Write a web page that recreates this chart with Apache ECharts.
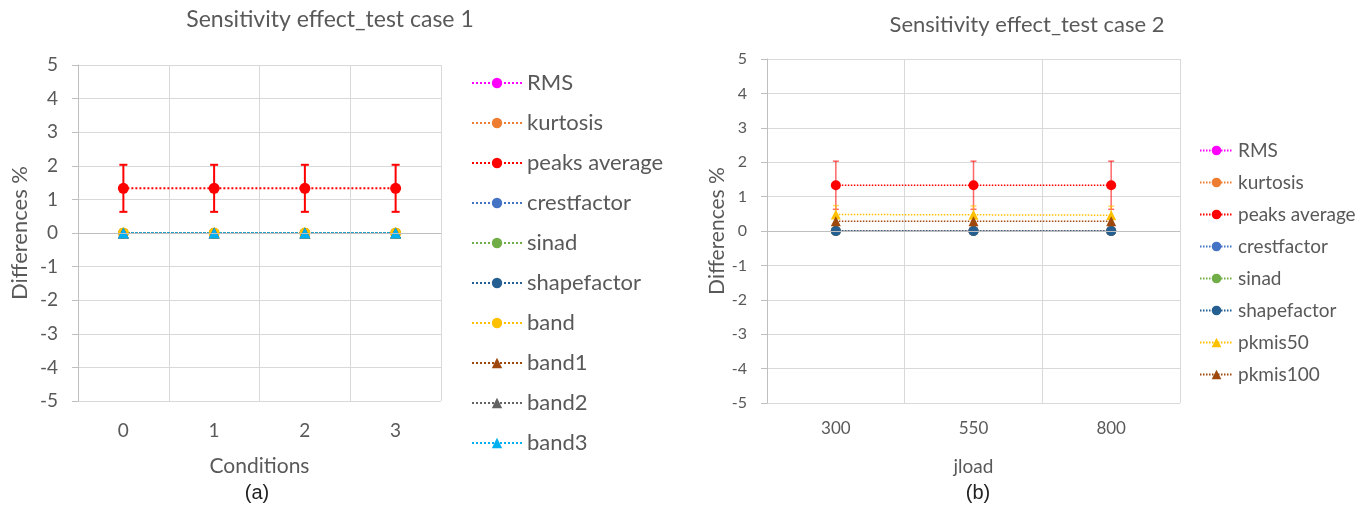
<!DOCTYPE html>
<html>
<head>
<meta charset="utf-8">
<script src="https://cdn.jsdelivr.net/npm/echarts@6/dist/echarts.min.js"></script>
<style>
  html, body { margin: 0; padding: 0; background: #fff; }
  #chart { width: 1367px; height: 509px; }
</style>
</head>
<body>
<div id="chart"></div>
<script>
// 数据
var conditions = ['0', '1', '2', '3'];
var jload = ['300', '550', '800'];

// case 1
var rms1 = [0, 0, 0, 0];
var kurtosis1 = [0, 0, 0, 0];
var peaksAvg1 = [1.33, 1.33, 1.33, 1.33];
var peaksErr1 = [0.70, 0.70, 0.70, 0.70];
var crest1 = [0, 0, 0, 0];
var sinad1 = [0, 0, 0, 0];
var shape1 = [0, 0, 0, 0];
var band = [0, 0, 0, 0];
var band1 = [0, 0, 0, 0];
var band2 = [0, 0, 0, 0];
var band3 = [0, 0, 0, 0];

// case 2
var rms2 = [0, 0, 0];
var kurtosis2 = [0, 0, 0];
var peaksAvg2 = [1.33, 1.33, 1.33];
var peaksErr2 = [0.70, 0.70, 0.70];
var crest2 = [0, 0, 0];
var sinad2 = [0, 0, 0];
var shape2 = [0, 0, 0];
var pkmis50 = [0.48, 0.47, 0.46];
var pkmis50Err = [0.26, 0.26, 0.26];
var pkmis100 = [0.28, 0.28, 0.28];

var yTicks = [-5, -4, -3, -2, -1, 0, 1, 2, 3, 4, 5];

var txt = '#595959';
var font = 'Lato, "Open Sans", sans-serif';

function line(name, data, color, symbol, idx, size, width) {
  return {
    name: name, type: 'line', data: data,
    xAxisIndex: idx, yAxisIndex: idx,
    symbol: symbol, symbolSize: size,
    lineStyle: { color: color, width: width, type: [width, width] },
    itemStyle: { color: color },
    z: 3
  };
}

// 误差线
function errBar(vals, errs, color, idx, cap, width, opacity) {
  var d = vals.map(function (v, i) { return [i, v - errs[i], v + errs[i]]; });
  return {
    type: 'custom', xAxisIndex: idx, yAxisIndex: idx, data: d, z: 2, silent: true,
    renderItem: function (params, api) {
      var lo = api.coord([api.value(0), api.value(1)]);
      var hi = api.coord([api.value(0), api.value(2)]);
      var st = { stroke: color, lineWidth: width, opacity: opacity };
      return {
        type: 'group',
        children: [
          { type: 'line', shape: { x1: hi[0], y1: hi[1], x2: lo[0], y2: lo[1] }, style: st },
          { type: 'line', shape: { x1: hi[0] - cap, y1: hi[1], x2: hi[0] + cap, y2: hi[1] }, style: st },
          { type: 'line', shape: { x1: lo[0] - cap, y1: lo[1], x2: lo[0] + cap, y2: lo[1] }, style: st }
        ]
      };
    }
  };
}

function zeroLine() {
  return {
    silent: true, symbol: 'none', label: { show: false },
    lineStyle: { color: '#BFBFBF', width: 1, type: 'solid' },
    data: [{ yAxis: 0 }]
  };
}

var s1 = [
  line('RMS', rms1, '#FF00FF', 'circle', 0, 10, 2),
  line('kurtosis', kurtosis1, '#ED7D31', 'circle', 0, 10, 2),
  line('peaks average', peaksAvg1, '#FF0000', 'circle', 0, 11, 2),
  line('crestfactor', crest1, '#4472C4', 'circle', 0, 10, 2),
  line('sinad', sinad1, '#70AD47', 'circle', 0, 10, 2),
  line('shapefactor', shape1, '#255E91', 'circle', 0, 10, 2),
  line('band', band, '#FFC000', 'circle', 0, 11, 2),
  line('band1', band1, '#9E480E', 'triangle', 0, 11, 2),
  line('band2', band2, '#636363', 'triangle', 0, 11, 2),
  line('band3', band3, '#00B0F0', 'triangle', 0, 11, 2)
];
s1[0].markLine = zeroLine();

var s2 = [
  line('RMS#2', rms2, '#FF00FF', 'circle', 1, 10, 1.5),
  line('kurtosis#2', kurtosis2, '#ED7D31', 'circle', 1, 10, 1.5),
  line('peaks average#2', peaksAvg2, '#FF0000', 'circle', 1, 10, 1.5),
  line('crestfactor#2', crest2, '#4472C4', 'circle', 1, 10, 1.5),
  line('sinad#2', sinad2, '#70AD47', 'circle', 1, 10, 1.5),
  line('shapefactor#2', shape2, '#255E91', 'circle', 1, 10, 1.5),
  line('pkmis50#2', pkmis50, '#FFC000', 'triangle', 1, 10, 1.5),
  line('pkmis100#2', pkmis100, '#9E480E', 'triangle', 1, 10, 1.5)
];
s2[0].markLine = zeroLine();

var series = s1.concat(s2);
series.push(errBar(peaksAvg1, peaksErr1, '#FF0000', 0, 4, 2, 1));
series.push(errBar(peaksAvg2, peaksErr2, '#FF0000', 1, 3, 1.5, 0.6));
series.push(errBar(pkmis50, pkmis50Err, '#FFC000', 1, 3, 1.5, 0.6));

function yAxis(idx, fs, nfs, gap) {
  return {
    type: 'value', gridIndex: idx, min: yTicks[0], max: yTicks[yTicks.length - 1], interval: 1,
    name: 'Differences %', nameLocation: 'middle', nameRotate: 90, nameGap: gap,
    nameTextStyle: { color: txt, fontSize: nfs, fontFamily: font },
    axisLine: { show: true, lineStyle: { color: '#BFBFBF' } },
    axisTick: { show: true, length: 6, lineStyle: { color: '#BFBFBF' } },
    axisLabel: { color: txt, fontSize: fs, fontFamily: font, margin: 20 },
    splitLine: { lineStyle: { color: '#D9D9D9' } }
  };
}

function xAxis(idx, cats, name, fs, nfs, lblMargin, gap) {
  return {
    type: 'category', gridIndex: idx, data: cats, boundaryGap: true,
    name: name, nameLocation: 'middle', nameGap: gap,
    nameTextStyle: { color: txt, fontSize: nfs, fontFamily: font },
    axisLine: { show: false, onZero: false },
    axisTick: { show: false },
    axisLabel: { color: txt, fontSize: fs, fontFamily: font, margin: lblMargin },
    splitLine: { show: true, lineStyle: { color: '#D9D9D9' } }
  };
}

var chart = echarts.init(document.getElementById('chart'));
chart.setOption({
  animation: false,
  title: [
    { text: 'Sensitivity effect_test case 1', left: 330, top: 8, padding: 0, textAlign: 'center',
      textStyle: { color: txt, fontSize: 23, fontWeight: 'normal', fontFamily: font } },
    { text: 'Sensitivity effect_test case 2', left: 1027, top: 14, padding: 0, textAlign: 'center',
      textStyle: { color: txt, fontSize: 22, fontWeight: 'normal', fontFamily: font } },
    { text: '(a)', left: 257, top: 483, padding: 0, textAlign: 'center',
      textStyle: { color: '#222', fontSize: 20, fontWeight: 'normal', fontFamily: 'Liberation Sans, Arial' } },
    { text: '(b)', left: 978, top: 483, padding: 0, textAlign: 'center',
      textStyle: { color: '#222', fontSize: 20, fontWeight: 'normal', fontFamily: 'Liberation Sans, Arial' } }
  ],
  legend: [
    { orient: 'vertical', left: 471, top: 72, padding: 0, itemWidth: 50, itemHeight: 13, itemGap: 18,
      data: s1.map(function (s) { return s.name; }),
      textStyle: { color: txt, fontSize: 22, fontFamily: font } },
    { orient: 'vertical', left: 1199, top: 141, padding: 0, itemWidth: 33, itemHeight: 12, itemGap: 13,
      data: s2.map(function (s) { return s.name; }),
      formatter: function (n) { return n.replace('#2', ''); },
      textStyle: { color: txt, fontSize: 19, fontFamily: font } }
  ],
  grid: [
    { left: 78, top: 65, width: 363, height: 336 },
    { left: 767, top: 59, width: 413, height: 344 }
  ],
  xAxis: [
    xAxis(0, conditions, 'Conditions', 19, 21, 20, 55),
    xAxis(1, jload, 'jload', 17, 19, 17, 54)
  ],
  yAxis: [
    yAxis(0, 19, 22, 47),
    yAxis(1, 16, 21, 38)
  ],
  series: series
});
</script>
</body>
</html>
